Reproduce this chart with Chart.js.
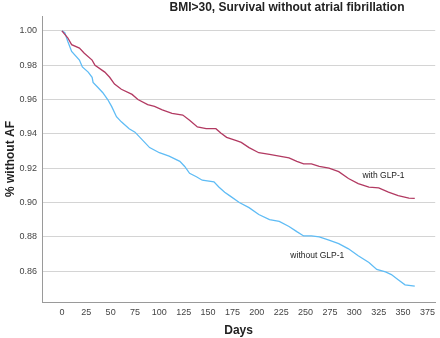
<!DOCTYPE html>
<html>
<head>
<meta charset="utf-8">
<script src="https://cdn.jsdelivr.net/npm/chart.js@4/dist/chart.umd.min.js"></script>
<style>
  html, body { margin: 0; padding: 0; background: #fff; }
  #wrap { width: 440px; height: 338px; }
</style>
</head>
<body>
<div id="wrap"><canvas id="kmChart" width="440" height="338"></canvas></div>
<script>
// Kaplan-Meier curves
const withGlpDays = [0, 6, 10, 18, 23, 31, 34, 44, 49, 54, 61, 72, 78, 88, 95, 103, 113, 124, 131, 139, 148, 158, 163, 169, 179, 184, 192, 202, 213, 223, 233, 241, 248, 256, 264, 274, 284, 294, 304, 315, 325, 335, 345, 356, 362];
const withGlpSurv = [1.000, 0.996, 0.992, 0.990, 0.987, 0.983, 0.980, 0.976, 0.973, 0.969, 0.966, 0.963, 0.960, 0.957, 0.956, 0.954, 0.952, 0.951, 0.948, 0.944, 0.943, 0.943, 0.9405, 0.938, 0.936, 0.935, 0.932, 0.929, 0.928, 0.927, 0.926, 0.924, 0.9225, 0.9225, 0.921, 0.920, 0.918, 0.914, 0.911, 0.909, 0.9085, 0.906, 0.904, 0.9026, 0.9024];

const withoutGlpDays = [0, 3, 6, 10, 18, 21, 27, 31, 32, 37, 42, 47, 51, 56, 61, 69, 75, 90, 100, 110, 121, 126, 131, 138, 144, 156, 161, 167, 172, 182, 192, 202, 213, 223, 233, 241, 248, 256, 264, 274, 284, 294, 304, 315, 323, 332, 338, 345, 352, 362];
const withoutGlpSurv = [1.000, 0.999, 0.994, 0.988, 0.983, 0.979, 0.976, 0.973, 0.970, 0.967, 0.964, 0.960, 0.956, 0.950, 0.947, 0.943, 0.941, 0.932, 0.929, 0.927, 0.924, 0.921, 0.917, 0.915, 0.913, 0.912, 0.909, 0.906, 0.904, 0.900, 0.897, 0.893, 0.890, 0.889, 0.886, 0.883, 0.8805, 0.8805, 0.880, 0.878, 0.876, 0.873, 0.869, 0.865, 0.861, 0.8595, 0.858, 0.855, 0.852, 0.8513];

const seriesNames = ["with GLP-1", "without GLP-1"];
// where each curve label sits, in data units (day, survival)
const labelDays = [330, 262];
const labelSurv = [0.9155, 0.869];

const chartTitle = "BMI>30, Survival without atrial fibrillation";
const FONT = "'Liberation Sans', Arial, sans-serif";

function toPoints(days, surv) {
  return days.map((d, i) => ({ x: d, y: surv[i] }));
}

// Draws the title and the curve labels
const textPlugin = {
  id: "kmText",
  afterDraw(chart) {
    const ctx = chart.ctx;
    const xs = chart.scales.x;
    const ys = chart.scales.y;
    ctx.save();
    ctx.fillStyle = "#222";
    ctx.textAlign = "center";
    ctx.textBaseline = "middle";
    ctx.font = "bold 12px " + FONT;
    ctx.fillText(chartTitle, 287, 8);

    ctx.font = "8.5px " + FONT;
    seriesNames.forEach((name, i) => {
      ctx.fillText(name, xs.getPixelForValue(labelDays[i]), ys.getPixelForValue(labelSurv[i]));
    });
    ctx.restore();
  },
};

const canvasElement = document.getElementById("kmChart");
new Chart(canvasElement.getContext("2d"), {
  type: "line",
  data: {
    datasets: [
      {
        label: seriesNames[0],
        data: toPoints(withGlpDays, withGlpSurv),
        borderColor: "#b23a62",
        borderWidth: 1.3,
        pointRadius: 0,
        tension: 0,
        fill: false,
      },
      {
        label: seriesNames[1],
        data: toPoints(withoutGlpDays, withoutGlpSurv),
        borderColor: "#5fbcf5",
        borderWidth: 1.3,
        pointRadius: 0,
        tension: 0,
        fill: false,
      },
    ],
  },
  options: {
    responsive: false,
    animation: false,
    layout: { padding: { top: 16, right: 3, left: 0, bottom: 0 } },
    plugins: {
      legend: { display: false },
      tooltip: { enabled: false },
    },
    scales: {
      x: {
        type: "linear",
        min: -20.4,
        max: 383,
        afterFit: (scale) => { scale.height = 36; },
        grid: { display: false, drawTicks: false },
        border: { display: true, color: "#9a9a9a", width: 1 },
        ticks: {
          stepSize: 25,
          includeBounds: false,
          padding: 5,
          color: "#444",
          font: { size: 9, family: FONT },
          maxRotation: 0,
        },
        title: {
          display: true,
          text: "Days",
          color: "#222",
          font: { size: 12, weight: "bold", family: FONT },
          padding: { top: 0, bottom: 0 },
        },
      },
      y: {
        min: 0.842,
        max: 1.0087,
        afterFit: (scale) => { scale.width = 42; },
        grid: { color: "#d4d4d4", lineWidth: 1, drawTicks: false },
        border: { display: true, color: "#9a9a9a", width: 1 },
        ticks: {
          stepSize: 0.02,
          includeBounds: false,
          padding: 5,
          color: "#444",
          font: { size: 9, family: FONT },
          callback: (value) => value.toFixed(2),
        },
        title: {
          display: true,
          text: "% without AF",
          color: "#222",
          font: { size: 12, weight: "bold", family: FONT },
          padding: { top: 3, bottom: 0 },
        },
      },
    },
  },
  plugins: [textPlugin],
});
</script>
</body>
</html>
